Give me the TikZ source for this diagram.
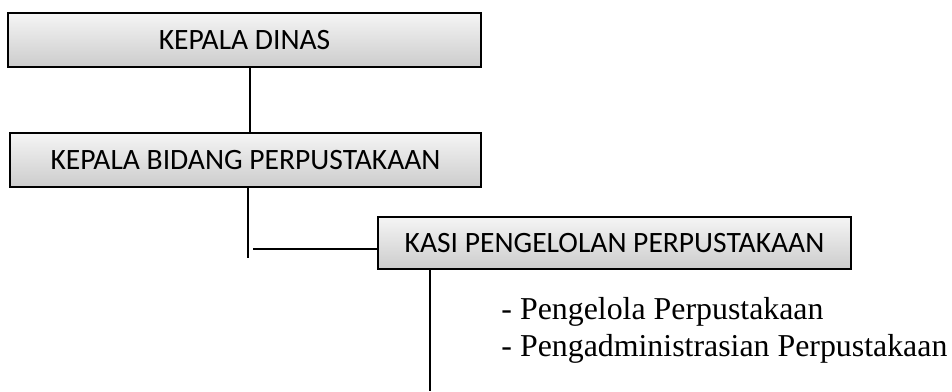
\documentclass[tikz,border=0pt]{standalone}
\usepackage{fontspec}
\setmainfont{Liberation Serif}
\newfontfamily\boxfont{Carlito}
\usetikzlibrary{positioning, shadows, shadings}

\begin{document}
\begin{tikzpicture}[x=0.43pt, y=-0.43pt,
    unit/.style={rectangle, draw, thick, top color=gray!8, bottom color=gray!40, drop shadow={opacity=0.35, shadow xshift=0.6pt, shadow yshift=-0.6pt}, inner sep=0pt, font=\boxfont\fontsize{12.7}{15}\selectfont},
    line/.style={thick}]
    \useasboundingbox (0,0) rectangle (952,391);

    % Units
    \node [unit, minimum width=473*0.43pt, minimum height=54*0.43pt] (dinas) at (244.5,40) {KEPALA DINAS};
    \node [unit, minimum width=471*0.43pt, minimum height=54*0.43pt] (bidang) at (245.5,160) {KEPALA BIDANG PERPUSTAKAAN};
    \node [unit, minimum width=473*0.43pt, minimum height=52*0.43pt] (kasi) at (614.5,243) {KASI PENGELOLAN PERPUSTAKAAN};

    % Staff
    \node [anchor=base west, align=left, inner sep=0pt, font=\fontsize{13.7}{15.5}\selectfont] (staf) at (501,356)
        {- Pengelola Perpustakaan\\- Pengadministrasian Perpustakaan};

    % Connectors
    \coordinate (top1) at (250,70);
    \coordinate (end1) at (248,258);
    \coordinate (brk) at (253,249);
    \coordinate (end2) at (430,391);
    \draw [line] (dinas.south -| top1) -- (bidang.north -| top1);
    \draw [line] (bidang.south -| end1) -- (end1);
    \draw [line] (brk) -- (kasi.west |- brk);
    \draw [line] (kasi.south -| end2) -- (end2);
\end{tikzpicture}
\end{document}
